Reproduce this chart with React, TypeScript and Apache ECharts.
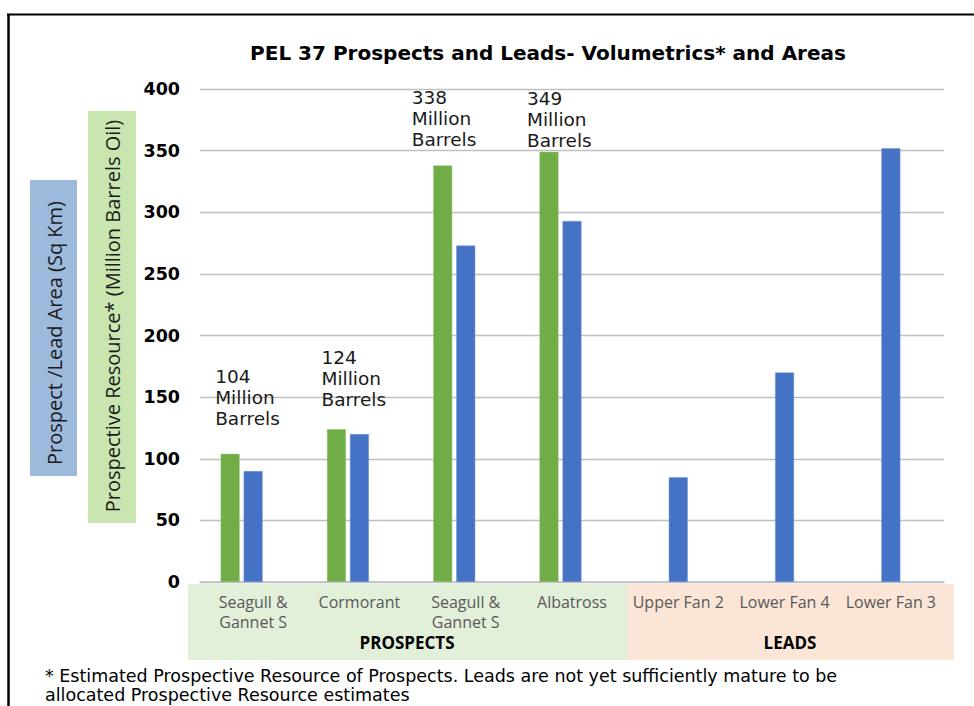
import React, { useEffect, useRef } from "react";
import * as echarts from "echarts";

const categories = [
  "Seagull &\nGannet S",
  "Cormorant",
  "Seagull &\nGannet S",
  "Albatross",
  "Upper Fan 2",
  "Lower Fan 4",
  "Lower Fan 3",
];
const resourceValues: (number | null)[] = [104, 124, 338, 349, null, null, null];
const areaValues: number[] = [90, 120, 273, 293, 85, 170, 352];
const yTicks = { min: 0, max: 400, interval: 50 };
const groupLabels = ["PROSPECTS", "LEADS"];
const titleText = "PEL 37 Prospects and Leads- Volumetrics* and Areas";
const yTitleArea = "Prospect /Lead Area (Sq Km)";
const yTitleResource = "Prospective Resource* (Million Barrels Oil)";
const footnote = [
  "* Estimated Prospective Resource of Prospects. Leads are not yet sufficiently mature to be",
  "allocated Prospective Resource estimates",
];

// layout-only: where each resource label block sits relative to its bar top
const labelOffsets: [number, number][] = [
  [-15, -88],
  [-15, -82],
  [-31, -78],
  [-22, -64],
];

export default function App() {
  const ref = useRef<HTMLDivElement>(null);
  useEffect(() => {
    if (!ref.current) return;
    const chart = echarts.init(ref.current, null, { renderer: "svg" });
    const font = "DejaVu Sans";
    const greenData = resourceValues.map((v, i) =>
      v == null
        ? null
        : {
            value: v,
            label: {
              show: true,
              position: "top",
              distance: 0,
              align: "left",
              verticalAlign: "top",
              offset: labelOffsets[i],
              formatter: "{c}\nMillion\nBarrels",
              fontFamily: font,
              fontSize: 18.5,
              lineHeight: 21,
              color: "#1a1a1a",
            },
          }
    );
    chart.setOption({
      animation: false,
      backgroundColor: "#ffffff",
      grid: { left: 200, right: 30, top: 89, bottom: 124, containLabel: false },
      xAxis: {
        type: "category",
        data: categories,
        axisLine: { show: true, lineStyle: { color: "#BFBFBF", width: 1.5 } },
        axisTick: { show: false },
        axisLabel: {
          interval: 0,
          margin: 10,
          color: "#595959",
          fontFamily: "Open Sans",
          fontSize: 16,
          lineHeight: 20,
        },
        splitLine: { show: false },
      },
      yAxis: {
        type: "value",
        min: yTicks.min,
        max: yTicks.max,
        interval: yTicks.interval,
        axisLine: { show: false },
        axisTick: { show: false },
        axisLabel: {
          margin: 20,
          color: "#000000",
          fontFamily: font,
          fontWeight: "bold",
          fontSize: 17.5,
        },
        splitLine: { lineStyle: { color: "#BFBFBF", width: 1.3 } },
      },
      series: [
        {
          type: "bar",
          name: "Prospective Resource",
          data: greenData,
          barWidth: 19,
          barGap: "21%",
          itemStyle: { color: "#70AD47", borderColor: "#9dc585", borderWidth: 0.5 },
          z: 3,
        },
        {
          type: "bar",
          name: "Area",
          data: areaValues,
          barWidth: 19,
          barGap: "21%",
          itemStyle: { color: "#4472C4", borderColor: "#7d9bd4", borderWidth: 0.5 },
          z: 3,
        },
        {
          type: "bar",
          name: "",
          data: categories.map(() => null),
          barWidth: 19,
          barGap: "21%",
        },
      ],
      graphic: [
        // category bands
        { type: "rect", shape: { x: 188, y: 584, width: 439, height: 76 }, style: { fill: "#E2EFD9" }, z: -10, silent: true },
        { type: "rect", shape: { x: 627, y: 584, width: 327, height: 76 }, style: { fill: "#FBE5D6" }, z: -10, silent: true },
        {
          type: "text",
          x: 407,
          y: 642,
          style: { text: groupLabels[0], fontFamily: "Open Sans", fontWeight: "bold", fontSize: 17, fill: "#000", align: "center", verticalAlign: "middle" },
        },
        {
          type: "text",
          x: 790,
          y: 642,
          style: { text: groupLabels[1], fontFamily: "Open Sans", fontWeight: "bold", fontSize: 17, fill: "#000", align: "center", verticalAlign: "middle" },
        },
        // title
        {
          type: "text",
          x: 548,
          y: 53,
          style: { text: titleText, fontFamily: font, fontWeight: "bold", fontSize: 20, fill: "#000", align: "center", verticalAlign: "middle" },
        },
        // y axis title boxes
        { type: "rect", shape: { x: 30, y: 180, width: 47, height: 296 }, style: { fill: "#9DB9DC" }, z: -5 },
        {
          type: "text",
          x: 54,
          y: 333,
          rotation: Math.PI / 2,
          style: { text: yTitleArea, fontFamily: "Open Sans", fontSize: 20, fill: "#1a1a1a", align: "center", verticalAlign: "middle" },
        },
        { type: "rect", shape: { x: 88, y: 111, width: 48, height: 412 }, style: { fill: "#C9E6B1" }, z: -5 },
        {
          type: "text",
          x: 112,
          y: 316,
          rotation: Math.PI / 2,
          style: { text: yTitleResource, fontFamily: "Open Sans", fontSize: 20, fill: "#1a1a1a", align: "center", verticalAlign: "middle" },
        },
        // footnote
        {
          type: "text",
          x: 45,
          y: 676,
          style: { text: footnote[0], fontFamily: font, fontSize: 17.5, fill: "#000", align: "left", verticalAlign: "middle" },
        },
        {
          type: "text",
          x: 45,
          y: 695,
          style: { text: footnote[1], fontFamily: font, fontSize: 17.5, fill: "#000", align: "left", verticalAlign: "middle" },
        },
        // frame
        { type: "line", shape: { x1: 7, y1: 14.5, x2: 974, y2: 14.5 }, style: { stroke: "#000", lineWidth: 2 } },
        { type: "line", shape: { x1: 8.5, y1: 14, x2: 8.5, y2: 706 }, style: { stroke: "#000", lineWidth: 2.5 } },
      ],
    });
    return () => chart.dispose();
  }, []);
  return (
    <div
      ref={ref}
      style={{ position: "fixed", left: 0, top: 0, width: 974, height: 706, background: "#fff" }}
    />
  );
}
